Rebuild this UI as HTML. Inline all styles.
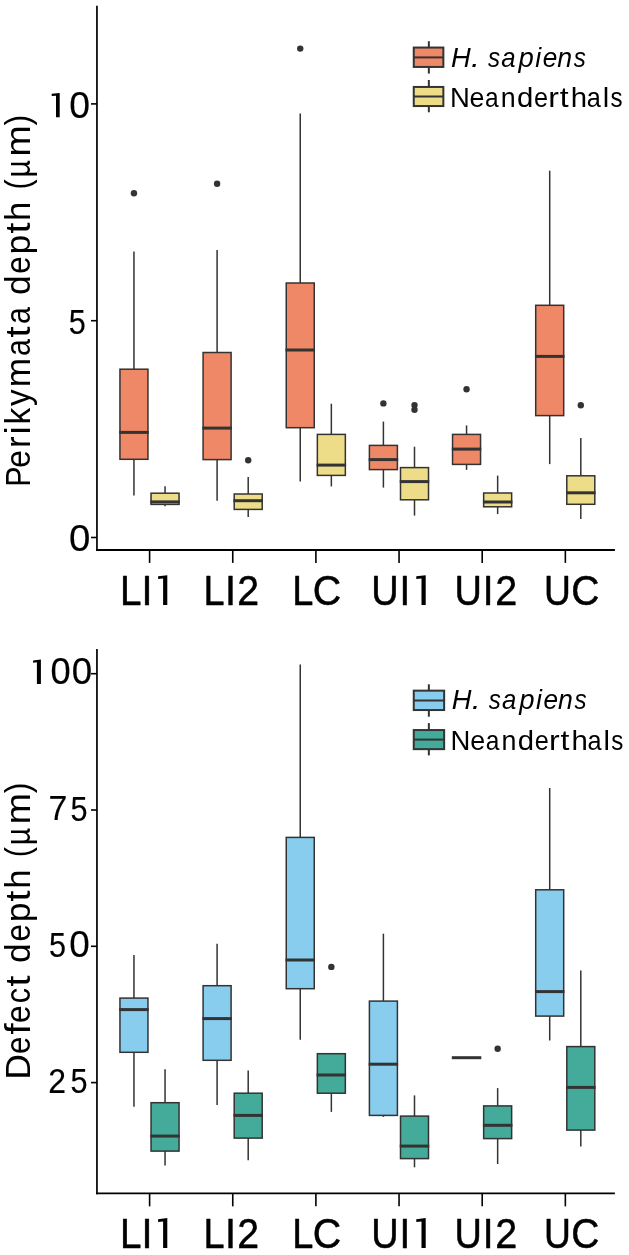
<!DOCTYPE html>
<html><head><meta charset="utf-8"><title>Box plots</title>
<style>
html,body{margin:0;padding:0;background:#fff;}
svg{display:block;font-family:"Liberation Sans",sans-serif;}
</style></head>
<body>
<svg style="will-change:transform;filter:grayscale(0)" width="629" height="1255" viewBox="0 0 629 1255">
<rect width="629" height="1255" fill="#ffffff"/>
<line x1="96.95" y1="5.80" x2="96.95" y2="550.90" stroke="#000" stroke-width="1.7" stroke-linecap="butt"/>
<line x1="96.10" y1="550.00" x2="614.90" y2="550.00" stroke="#000" stroke-width="1.8" stroke-linecap="butt"/>
<line x1="91.00" y1="103.90" x2="97.00" y2="103.90" stroke="#000" stroke-width="1.6" stroke-linecap="butt"/>
<line x1="91.00" y1="320.70" x2="97.00" y2="320.70" stroke="#000" stroke-width="1.6" stroke-linecap="butt"/>
<line x1="91.00" y1="537.50" x2="97.00" y2="537.50" stroke="#000" stroke-width="1.6" stroke-linecap="butt"/>
<line x1="149.60" y1="550.00" x2="149.60" y2="562.90" stroke="#000" stroke-width="1.6" stroke-linecap="butt"/>
<line x1="232.75" y1="550.00" x2="232.75" y2="562.90" stroke="#000" stroke-width="1.6" stroke-linecap="butt"/>
<line x1="315.90" y1="550.00" x2="315.90" y2="562.90" stroke="#000" stroke-width="1.6" stroke-linecap="butt"/>
<line x1="399.05" y1="550.00" x2="399.05" y2="562.90" stroke="#000" stroke-width="1.6" stroke-linecap="butt"/>
<line x1="482.20" y1="550.00" x2="482.20" y2="562.90" stroke="#000" stroke-width="1.6" stroke-linecap="butt"/>
<line x1="565.35" y1="550.00" x2="565.35" y2="562.90" stroke="#000" stroke-width="1.6" stroke-linecap="butt"/>
<text transform="translate(119.96,604.75) scale(0.9261,1)" font-size="41.72" fill="#000" stroke="#000" stroke-width="0.5" stroke-linejoin="round">L</text>
<text transform="translate(141.49,604.75) scale(0.9500,1)" font-size="41.72" fill="#000" stroke="#000" stroke-width="0.5" stroke-linejoin="round">I</text>
<polygon points="158.10,576.33 167.30,575.21 167.30,605.00 163.10,605.00 163.10,578.53 158.10,578.98" fill="#000"/>
<text transform="translate(203.57,604.75) scale(0.9076,1)" font-size="41.72" fill="#000" stroke="#000" stroke-width="0.5" stroke-linejoin="round">L</text>
<text transform="translate(224.89,604.75) scale(0.9500,1)" font-size="41.72" fill="#000" stroke="#000" stroke-width="0.5" stroke-linejoin="round">I</text>
<text transform="translate(237.17,604.75) scale(0.9425,1)" font-size="41.72" fill="#000" stroke="#000" stroke-width="0.5" stroke-linejoin="round">2</text>
<text transform="translate(292.31,604.75) scale(0.9102,1)" font-size="41.72" fill="#000" stroke="#000" stroke-width="0.5" stroke-linejoin="round">L</text>
<text transform="translate(312.83,604.75) scale(0.9440,1)" font-size="41.72" fill="#000" stroke="#000" stroke-width="0.5" stroke-linejoin="round">C</text>
<text transform="translate(371.21,604.75) scale(0.9093,1)" font-size="41.72" fill="#000" stroke="#000" stroke-width="0.5" stroke-linejoin="round">U</text>
<text transform="translate(399.57,604.75) scale(0.9273,1)" font-size="41.72" fill="#000" stroke="#000" stroke-width="0.5" stroke-linejoin="round">I</text>
<polygon points="416.30,576.33 425.70,575.21 425.70,605.00 421.50,605.00 421.50,578.53 416.30,578.98" fill="#000"/>
<text transform="translate(454.41,604.75) scale(0.9093,1)" font-size="41.72" fill="#000" stroke="#000" stroke-width="0.5" stroke-linejoin="round">U</text>
<text transform="translate(482.77,604.75) scale(0.9273,1)" font-size="41.72" fill="#000" stroke="#000" stroke-width="0.5" stroke-linejoin="round">I</text>
<text transform="translate(495.16,604.75) scale(0.9476,1)" font-size="41.72" fill="#000" stroke="#000" stroke-width="0.5" stroke-linejoin="round">2</text>
<text transform="translate(544.06,604.75) scale(0.8928,1)" font-size="41.72" fill="#000" stroke="#000" stroke-width="0.5" stroke-linejoin="round">U</text>
<text transform="translate(571.15,604.75) scale(0.9329,1)" font-size="41.72" fill="#000" stroke="#000" stroke-width="0.5" stroke-linejoin="round">C</text>
<line x1="133.95" y1="251.40" x2="133.95" y2="369.20" stroke="#333" stroke-width="1.5" stroke-linecap="butt"/>
<line x1="133.95" y1="459.30" x2="133.95" y2="495.40" stroke="#333" stroke-width="1.5" stroke-linecap="butt"/>
<rect x="119.95" y="369.20" width="28.00" height="90.10" fill="#EE8866" stroke="#333" stroke-width="1.5"/>
<line x1="119.20" y1="432.40" x2="148.70" y2="432.40" stroke="#333" stroke-width="3.0" stroke-linecap="butt"/>
<circle cx="133.95" cy="193.20" r="3.2" fill="#333"/>
<line x1="217.10" y1="249.90" x2="217.10" y2="352.50" stroke="#333" stroke-width="1.5" stroke-linecap="butt"/>
<line x1="217.10" y1="459.60" x2="217.10" y2="500.70" stroke="#333" stroke-width="1.5" stroke-linecap="butt"/>
<rect x="203.10" y="352.50" width="28.00" height="107.10" fill="#EE8866" stroke="#333" stroke-width="1.5"/>
<line x1="202.35" y1="428.10" x2="231.85" y2="428.10" stroke="#333" stroke-width="3.0" stroke-linecap="butt"/>
<circle cx="217.10" cy="183.70" r="3.2" fill="#333"/>
<line x1="300.25" y1="113.50" x2="300.25" y2="283.00" stroke="#333" stroke-width="1.5" stroke-linecap="butt"/>
<line x1="300.25" y1="427.70" x2="300.25" y2="481.60" stroke="#333" stroke-width="1.5" stroke-linecap="butt"/>
<rect x="286.25" y="283.00" width="28.00" height="144.70" fill="#EE8866" stroke="#333" stroke-width="1.5"/>
<line x1="285.50" y1="350.00" x2="315.00" y2="350.00" stroke="#333" stroke-width="3.0" stroke-linecap="butt"/>
<circle cx="300.25" cy="48.60" r="3.2" fill="#333"/>
<line x1="383.40" y1="421.60" x2="383.40" y2="445.40" stroke="#333" stroke-width="1.5" stroke-linecap="butt"/>
<line x1="383.40" y1="469.60" x2="383.40" y2="487.60" stroke="#333" stroke-width="1.5" stroke-linecap="butt"/>
<rect x="369.40" y="445.40" width="28.00" height="24.20" fill="#EE8866" stroke="#333" stroke-width="1.5"/>
<line x1="368.65" y1="459.60" x2="398.15" y2="459.60" stroke="#333" stroke-width="3.0" stroke-linecap="butt"/>
<circle cx="383.40" cy="403.40" r="3.2" fill="#333"/>
<line x1="466.55" y1="425.40" x2="466.55" y2="434.40" stroke="#333" stroke-width="1.5" stroke-linecap="butt"/>
<line x1="466.55" y1="464.40" x2="466.55" y2="469.90" stroke="#333" stroke-width="1.5" stroke-linecap="butt"/>
<rect x="452.55" y="434.40" width="28.00" height="30.00" fill="#EE8866" stroke="#333" stroke-width="1.5"/>
<line x1="451.80" y1="449.10" x2="481.30" y2="449.10" stroke="#333" stroke-width="3.0" stroke-linecap="butt"/>
<circle cx="466.55" cy="389.20" r="3.2" fill="#333"/>
<line x1="549.70" y1="170.70" x2="549.70" y2="305.30" stroke="#333" stroke-width="1.5" stroke-linecap="butt"/>
<line x1="549.70" y1="415.60" x2="549.70" y2="464.10" stroke="#333" stroke-width="1.5" stroke-linecap="butt"/>
<rect x="535.70" y="305.30" width="28.00" height="110.30" fill="#EE8866" stroke="#333" stroke-width="1.5"/>
<line x1="534.95" y1="356.40" x2="564.45" y2="356.40" stroke="#333" stroke-width="3.0" stroke-linecap="butt"/>
<line x1="165.05" y1="486.20" x2="165.05" y2="493.20" stroke="#333" stroke-width="1.5" stroke-linecap="butt"/>
<line x1="165.05" y1="504.40" x2="165.05" y2="506.20" stroke="#333" stroke-width="1.5" stroke-linecap="butt"/>
<rect x="151.05" y="493.20" width="28.00" height="11.20" fill="#EEDD88" stroke="#333" stroke-width="1.5"/>
<line x1="150.30" y1="501.90" x2="179.80" y2="501.90" stroke="#333" stroke-width="3.0" stroke-linecap="butt"/>
<line x1="248.20" y1="477.00" x2="248.20" y2="494.00" stroke="#333" stroke-width="1.5" stroke-linecap="butt"/>
<line x1="248.20" y1="509.40" x2="248.20" y2="516.90" stroke="#333" stroke-width="1.5" stroke-linecap="butt"/>
<rect x="234.20" y="494.00" width="28.00" height="15.40" fill="#EEDD88" stroke="#333" stroke-width="1.5"/>
<line x1="233.45" y1="500.70" x2="262.95" y2="500.70" stroke="#333" stroke-width="3.0" stroke-linecap="butt"/>
<circle cx="248.20" cy="460.30" r="3.2" fill="#333"/>
<line x1="331.35" y1="403.70" x2="331.35" y2="434.40" stroke="#333" stroke-width="1.5" stroke-linecap="butt"/>
<line x1="331.35" y1="475.40" x2="331.35" y2="486.40" stroke="#333" stroke-width="1.5" stroke-linecap="butt"/>
<rect x="317.35" y="434.40" width="28.00" height="41.00" fill="#EEDD88" stroke="#333" stroke-width="1.5"/>
<line x1="316.60" y1="465.10" x2="346.10" y2="465.10" stroke="#333" stroke-width="3.0" stroke-linecap="butt"/>
<line x1="414.50" y1="446.70" x2="414.50" y2="467.60" stroke="#333" stroke-width="1.5" stroke-linecap="butt"/>
<line x1="414.50" y1="499.80" x2="414.50" y2="515.60" stroke="#333" stroke-width="1.5" stroke-linecap="butt"/>
<rect x="400.50" y="467.60" width="28.00" height="32.20" fill="#EEDD88" stroke="#333" stroke-width="1.5"/>
<line x1="399.75" y1="481.60" x2="429.25" y2="481.60" stroke="#333" stroke-width="3.0" stroke-linecap="butt"/>
<circle cx="414.50" cy="405.10" r="3.2" fill="#333"/>
<circle cx="414.50" cy="409.70" r="3.2" fill="#333"/>
<line x1="497.65" y1="475.60" x2="497.65" y2="493.00" stroke="#333" stroke-width="1.5" stroke-linecap="butt"/>
<line x1="497.65" y1="506.80" x2="497.65" y2="514.00" stroke="#333" stroke-width="1.5" stroke-linecap="butt"/>
<rect x="483.65" y="493.00" width="28.00" height="13.80" fill="#EEDD88" stroke="#333" stroke-width="1.5"/>
<line x1="482.90" y1="502.00" x2="512.40" y2="502.00" stroke="#333" stroke-width="3.0" stroke-linecap="butt"/>
<line x1="580.80" y1="437.90" x2="580.80" y2="475.80" stroke="#333" stroke-width="1.5" stroke-linecap="butt"/>
<line x1="580.80" y1="504.30" x2="580.80" y2="519.00" stroke="#333" stroke-width="1.5" stroke-linecap="butt"/>
<rect x="566.80" y="475.80" width="28.00" height="28.50" fill="#EEDD88" stroke="#333" stroke-width="1.5"/>
<line x1="566.05" y1="492.80" x2="595.55" y2="492.80" stroke="#333" stroke-width="3.0" stroke-linecap="butt"/>
<circle cx="580.80" cy="405.20" r="3.2" fill="#333"/>
<line x1="96.95" y1="648.90" x2="96.95" y2="1194.35" stroke="#000" stroke-width="1.7" stroke-linecap="butt"/>
<line x1="96.10" y1="1193.45" x2="614.90" y2="1193.45" stroke="#000" stroke-width="1.8" stroke-linecap="butt"/>
<line x1="91.00" y1="673.70" x2="97.00" y2="673.70" stroke="#000" stroke-width="1.6" stroke-linecap="butt"/>
<line x1="91.00" y1="810.00" x2="97.00" y2="810.00" stroke="#000" stroke-width="1.6" stroke-linecap="butt"/>
<line x1="91.00" y1="946.30" x2="97.00" y2="946.30" stroke="#000" stroke-width="1.6" stroke-linecap="butt"/>
<line x1="91.00" y1="1082.60" x2="97.00" y2="1082.60" stroke="#000" stroke-width="1.6" stroke-linecap="butt"/>
<line x1="149.60" y1="1193.45" x2="149.60" y2="1206.35" stroke="#000" stroke-width="1.6" stroke-linecap="butt"/>
<line x1="232.75" y1="1193.45" x2="232.75" y2="1206.35" stroke="#000" stroke-width="1.6" stroke-linecap="butt"/>
<line x1="315.90" y1="1193.45" x2="315.90" y2="1206.35" stroke="#000" stroke-width="1.6" stroke-linecap="butt"/>
<line x1="399.05" y1="1193.45" x2="399.05" y2="1206.35" stroke="#000" stroke-width="1.6" stroke-linecap="butt"/>
<line x1="482.20" y1="1193.45" x2="482.20" y2="1206.35" stroke="#000" stroke-width="1.6" stroke-linecap="butt"/>
<line x1="565.35" y1="1193.45" x2="565.35" y2="1206.35" stroke="#000" stroke-width="1.6" stroke-linecap="butt"/>
<text transform="translate(119.96,1247.75) scale(0.9230,1)" font-size="41.86" fill="#000" stroke="#000" stroke-width="0.5" stroke-linejoin="round">L</text>
<text transform="translate(141.49,1247.75) scale(0.9470,1)" font-size="41.86" fill="#000" stroke="#000" stroke-width="0.5" stroke-linejoin="round">I</text>
<polygon points="158.10,1219.23 167.30,1218.10 167.30,1248.00 163.10,1248.00 163.10,1221.44 158.10,1221.89" fill="#000"/>
<text transform="translate(203.57,1247.75) scale(0.9045,1)" font-size="41.86" fill="#000" stroke="#000" stroke-width="0.5" stroke-linejoin="round">L</text>
<text transform="translate(224.89,1247.75) scale(0.9470,1)" font-size="41.86" fill="#000" stroke="#000" stroke-width="0.5" stroke-linejoin="round">I</text>
<text transform="translate(237.17,1247.75) scale(0.9393,1)" font-size="41.86" fill="#000" stroke="#000" stroke-width="0.5" stroke-linejoin="round">2</text>
<text transform="translate(292.31,1247.75) scale(0.9072,1)" font-size="41.86" fill="#000" stroke="#000" stroke-width="0.5" stroke-linejoin="round">L</text>
<text transform="translate(312.83,1247.75) scale(0.9408,1)" font-size="41.86" fill="#000" stroke="#000" stroke-width="0.5" stroke-linejoin="round">C</text>
<text transform="translate(371.21,1247.75) scale(0.9062,1)" font-size="41.86" fill="#000" stroke="#000" stroke-width="0.5" stroke-linejoin="round">U</text>
<text transform="translate(399.57,1247.75) scale(0.9245,1)" font-size="41.86" fill="#000" stroke="#000" stroke-width="0.5" stroke-linejoin="round">I</text>
<polygon points="416.30,1219.23 425.70,1218.10 425.70,1248.00 421.50,1248.00 421.50,1221.44 416.30,1221.89" fill="#000"/>
<text transform="translate(454.41,1247.75) scale(0.9062,1)" font-size="41.86" fill="#000" stroke="#000" stroke-width="0.5" stroke-linejoin="round">U</text>
<text transform="translate(482.77,1247.75) scale(0.9245,1)" font-size="41.86" fill="#000" stroke="#000" stroke-width="0.5" stroke-linejoin="round">I</text>
<text transform="translate(495.16,1247.75) scale(0.9444,1)" font-size="41.86" fill="#000" stroke="#000" stroke-width="0.5" stroke-linejoin="round">2</text>
<text transform="translate(544.05,1247.75) scale(0.8897,1)" font-size="41.86" fill="#000" stroke="#000" stroke-width="0.5" stroke-linejoin="round">U</text>
<text transform="translate(571.15,1247.75) scale(0.9297,1)" font-size="41.86" fill="#000" stroke="#000" stroke-width="0.5" stroke-linejoin="round">C</text>
<line x1="133.95" y1="955.00" x2="133.95" y2="998.10" stroke="#333" stroke-width="1.5" stroke-linecap="butt"/>
<line x1="133.95" y1="1052.30" x2="133.95" y2="1106.70" stroke="#333" stroke-width="1.5" stroke-linecap="butt"/>
<rect x="119.95" y="998.10" width="28.00" height="54.20" fill="#88CCEE" stroke="#333" stroke-width="1.5"/>
<line x1="119.20" y1="1009.60" x2="148.70" y2="1009.60" stroke="#333" stroke-width="3.0" stroke-linecap="butt"/>
<line x1="217.10" y1="943.70" x2="217.10" y2="985.70" stroke="#333" stroke-width="1.5" stroke-linecap="butt"/>
<line x1="217.10" y1="1060.30" x2="217.10" y2="1104.90" stroke="#333" stroke-width="1.5" stroke-linecap="butt"/>
<rect x="203.10" y="985.70" width="28.00" height="74.60" fill="#88CCEE" stroke="#333" stroke-width="1.5"/>
<line x1="202.35" y1="1018.60" x2="231.85" y2="1018.60" stroke="#333" stroke-width="3.0" stroke-linecap="butt"/>
<line x1="300.25" y1="664.50" x2="300.25" y2="837.40" stroke="#333" stroke-width="1.5" stroke-linecap="butt"/>
<line x1="300.25" y1="988.70" x2="300.25" y2="1039.80" stroke="#333" stroke-width="1.5" stroke-linecap="butt"/>
<rect x="286.25" y="837.40" width="28.00" height="151.30" fill="#88CCEE" stroke="#333" stroke-width="1.5"/>
<line x1="285.50" y1="960.00" x2="315.00" y2="960.00" stroke="#333" stroke-width="3.0" stroke-linecap="butt"/>
<line x1="383.40" y1="933.70" x2="383.40" y2="1001.10" stroke="#333" stroke-width="1.5" stroke-linecap="butt"/>
<line x1="383.40" y1="1115.40" x2="383.40" y2="1116.90" stroke="#333" stroke-width="1.5" stroke-linecap="butt"/>
<rect x="369.40" y="1001.10" width="28.00" height="114.30" fill="#88CCEE" stroke="#333" stroke-width="1.5"/>
<line x1="368.65" y1="1064.20" x2="398.15" y2="1064.20" stroke="#333" stroke-width="3.0" stroke-linecap="butt"/>
<line x1="451.80" y1="1057.70" x2="481.30" y2="1057.70" stroke="#333" stroke-width="3.0" stroke-linecap="butt"/>
<line x1="549.70" y1="788.00" x2="549.70" y2="889.80" stroke="#333" stroke-width="1.5" stroke-linecap="butt"/>
<line x1="549.70" y1="1016.10" x2="549.70" y2="1040.50" stroke="#333" stroke-width="1.5" stroke-linecap="butt"/>
<rect x="535.70" y="889.80" width="28.00" height="126.30" fill="#88CCEE" stroke="#333" stroke-width="1.5"/>
<line x1="534.95" y1="991.60" x2="564.45" y2="991.60" stroke="#333" stroke-width="3.0" stroke-linecap="butt"/>
<line x1="165.05" y1="1069.20" x2="165.05" y2="1102.70" stroke="#333" stroke-width="1.5" stroke-linecap="butt"/>
<line x1="165.05" y1="1151.10" x2="165.05" y2="1165.60" stroke="#333" stroke-width="1.5" stroke-linecap="butt"/>
<rect x="151.05" y="1102.70" width="28.00" height="48.40" fill="#44AA99" stroke="#333" stroke-width="1.5"/>
<line x1="150.30" y1="1136.10" x2="179.80" y2="1136.10" stroke="#333" stroke-width="3.0" stroke-linecap="butt"/>
<line x1="248.20" y1="1070.50" x2="248.20" y2="1093.20" stroke="#333" stroke-width="1.5" stroke-linecap="butt"/>
<line x1="248.20" y1="1138.10" x2="248.20" y2="1160.30" stroke="#333" stroke-width="1.5" stroke-linecap="butt"/>
<rect x="234.20" y="1093.20" width="28.00" height="44.90" fill="#44AA99" stroke="#333" stroke-width="1.5"/>
<line x1="233.45" y1="1115.40" x2="262.95" y2="1115.40" stroke="#333" stroke-width="3.0" stroke-linecap="butt"/>
<line x1="331.35" y1="1093.20" x2="331.35" y2="1111.90" stroke="#333" stroke-width="1.5" stroke-linecap="butt"/>
<rect x="317.35" y="1053.70" width="28.00" height="39.50" fill="#44AA99" stroke="#333" stroke-width="1.5"/>
<line x1="316.60" y1="1075.00" x2="346.10" y2="1075.00" stroke="#333" stroke-width="3.0" stroke-linecap="butt"/>
<circle cx="331.35" cy="966.90" r="3.2" fill="#333"/>
<line x1="414.50" y1="1095.40" x2="414.50" y2="1116.10" stroke="#333" stroke-width="1.5" stroke-linecap="butt"/>
<line x1="414.50" y1="1158.60" x2="414.50" y2="1167.30" stroke="#333" stroke-width="1.5" stroke-linecap="butt"/>
<rect x="400.50" y="1116.10" width="28.00" height="42.50" fill="#44AA99" stroke="#333" stroke-width="1.5"/>
<line x1="399.75" y1="1146.10" x2="429.25" y2="1146.10" stroke="#333" stroke-width="3.0" stroke-linecap="butt"/>
<line x1="497.65" y1="1088.10" x2="497.65" y2="1105.90" stroke="#333" stroke-width="1.5" stroke-linecap="butt"/>
<line x1="497.65" y1="1138.60" x2="497.65" y2="1164.00" stroke="#333" stroke-width="1.5" stroke-linecap="butt"/>
<rect x="483.65" y="1105.90" width="28.00" height="32.70" fill="#44AA99" stroke="#333" stroke-width="1.5"/>
<line x1="482.90" y1="1125.30" x2="512.40" y2="1125.30" stroke="#333" stroke-width="3.0" stroke-linecap="butt"/>
<circle cx="497.65" cy="1048.80" r="3.2" fill="#333"/>
<line x1="580.80" y1="970.40" x2="580.80" y2="1046.60" stroke="#333" stroke-width="1.5" stroke-linecap="butt"/>
<line x1="580.80" y1="1130.10" x2="580.80" y2="1146.60" stroke="#333" stroke-width="1.5" stroke-linecap="butt"/>
<rect x="566.80" y="1046.60" width="28.00" height="83.50" fill="#44AA99" stroke="#333" stroke-width="1.5"/>
<line x1="566.05" y1="1087.40" x2="595.55" y2="1087.40" stroke="#333" stroke-width="3.0" stroke-linecap="butt"/>
<polygon points="51.70,93.87 59.70,92.96 59.70,117.30 56.00,117.30 56.00,95.67 51.70,96.04" fill="#000"/>
<text transform="translate(69.22,117.82) scale(1.0121,1)" font-size="36.89" fill="#000" stroke="#000" stroke-width="0.15" stroke-linejoin="round">0</text>
<text transform="translate(68.80,334.13) scale(0.8600,1)" font-size="35.68" fill="#000" stroke="#000" stroke-width="0.15" stroke-linejoin="round">5</text>
<text transform="translate(68.88,551.12) scale(1.0403,1)" font-size="36.89" fill="#000" stroke="#000" stroke-width="0.15" stroke-linejoin="round">0</text>
<polygon points="33.10,660.47 40.90,659.56 40.90,683.90 36.90,683.90 36.90,662.27 33.10,662.64" fill="#000"/>
<text transform="translate(50.46,684.42) scale(0.9840,1)" font-size="36.89" fill="#000" stroke="#000" stroke-width="0.15" stroke-linejoin="round">0</text>
<text transform="translate(71.74,684.42) scale(0.9953,1)" font-size="36.89" fill="#000" stroke="#000" stroke-width="0.15" stroke-linejoin="round">0</text>
<text transform="translate(48.54,820.02) scale(0.9757,1)" font-size="34.81" fill="#000" stroke="#000" stroke-width="0.15" stroke-linejoin="round">7</text>
<text transform="translate(70.42,820.62) scale(0.8600,1)" font-size="35.68" fill="#000" stroke="#000" stroke-width="0.15" stroke-linejoin="round">5</text>
<text transform="translate(48.95,957.23) scale(0.8600,1)" font-size="35.68" fill="#000" stroke="#000" stroke-width="0.15" stroke-linejoin="round">5</text>
<text transform="translate(69.24,957.23) scale(1.0009,1)" font-size="36.89" fill="#000" stroke="#000" stroke-width="0.15" stroke-linejoin="round">0</text>
<text transform="translate(48.27,1092.62) scale(0.9117,1)" font-size="35.03" fill="#000" stroke="#000" stroke-width="0.15" stroke-linejoin="round">2</text>
<text transform="translate(70.57,1093.22) scale(0.8600,1)" font-size="35.68" fill="#000" stroke="#000" stroke-width="0.15" stroke-linejoin="round">5</text>
<text transform="translate(30.40,486.87) rotate(-90) scale(0.8600,1)" font-size="35.32" fill="#000">P</text>
<text transform="translate(30.40,467.63) rotate(-90) scale(0.8976,1)" font-size="35.32" fill="#000">e</text>
<text transform="translate(30.40,448.07) rotate(-90) scale(0.9740,1)" font-size="35.32" fill="#000">r</text>
<text transform="translate(30.40,434.61) rotate(-90) scale(1.0617,1)" font-size="35.32" fill="#000">i</text>
<text transform="translate(30.40,424.55) rotate(-90) scale(0.9525,1)" font-size="35.32" fill="#000">k</text>
<text transform="translate(30.40,406.00) rotate(-90) scale(0.9380,1)" font-size="35.32" fill="#000">y</text>
<text transform="translate(30.40,387.13) rotate(-90) scale(0.9976,1)" font-size="35.32" fill="#000">m</text>
<text transform="translate(30.40,356.03) rotate(-90) scale(0.8600,1)" font-size="35.32" fill="#000">a</text>
<text transform="translate(30.40,337.40) rotate(-90) scale(1.1281,1)" font-size="35.32" fill="#000">t</text>
<text transform="translate(30.40,324.03) rotate(-90) scale(0.8600,1)" font-size="35.32" fill="#000">a</text>
<text transform="translate(30.40,295.09) rotate(-90) scale(1.0067,1)" font-size="35.32" fill="#000">d</text>
<text transform="translate(30.40,273.71) rotate(-90) scale(0.8855,1)" font-size="35.32" fill="#000">e</text>
<text transform="translate(30.40,254.48) rotate(-90) scale(1.0067,1)" font-size="35.32" fill="#000">p</text>
<text transform="translate(30.40,233.59) rotate(-90) scale(1.1115,1)" font-size="35.32" fill="#000">t</text>
<text transform="translate(30.40,221.05) rotate(-90) scale(0.9829,1)" font-size="35.32" fill="#000">h</text>
<text transform="translate(30.40,189.51) rotate(-90) scale(0.8600,1)" font-size="35.32" fill="#000">(</text>
<text transform="translate(30.40,177.53) rotate(-90) scale(0.8600,1)" font-size="35.32" fill="#000">µ</text>
<text transform="translate(30.40,156.48) rotate(-90) scale(1.0622,1)" font-size="35.32" fill="#000">m</text>
<text transform="translate(30.40,125.49) rotate(-90) scale(0.9188,1)" font-size="35.32" fill="#000">)</text>
<text transform="translate(30.40,1079.52) rotate(-90) scale(0.9924,1)" font-size="35.32" fill="#000">D</text>
<text transform="translate(30.40,1053.96) rotate(-90) scale(0.8843,1)" font-size="35.32" fill="#000">e</text>
<text transform="translate(30.40,1034.40) rotate(-90) scale(1.1400,1)" font-size="35.32" fill="#000">f</text>
<text transform="translate(30.40,1022.93) rotate(-90) scale(0.8976,1)" font-size="35.32" fill="#000">e</text>
<text transform="translate(30.40,1003.25) rotate(-90) scale(0.8690,1)" font-size="35.32" fill="#000">c</text>
<text transform="translate(30.40,986.44) rotate(-90) scale(1.1115,1)" font-size="35.32" fill="#000">t</text>
<text transform="translate(30.40,962.89) rotate(-90) scale(1.0067,1)" font-size="35.32" fill="#000">d</text>
<text transform="translate(30.40,941.51) rotate(-90) scale(0.8855,1)" font-size="35.32" fill="#000">e</text>
<text transform="translate(30.40,922.28) rotate(-90) scale(1.0067,1)" font-size="35.32" fill="#000">p</text>
<text transform="translate(30.40,901.39) rotate(-90) scale(1.1115,1)" font-size="35.32" fill="#000">t</text>
<text transform="translate(30.40,888.85) rotate(-90) scale(0.9829,1)" font-size="35.32" fill="#000">h</text>
<text transform="translate(30.40,857.31) rotate(-90) scale(0.8600,1)" font-size="35.32" fill="#000">(</text>
<text transform="translate(30.40,845.33) rotate(-90) scale(0.8600,1)" font-size="35.32" fill="#000">µ</text>
<text transform="translate(30.40,824.28) rotate(-90) scale(1.0622,1)" font-size="35.32" fill="#000">m</text>
<text transform="translate(30.40,793.29) rotate(-90) scale(0.9188,1)" font-size="35.32" fill="#000">)</text>
<line x1="428.85" y1="41.20" x2="428.85" y2="73.60" stroke="#333" stroke-width="2.0" stroke-linecap="butt"/>
<rect x="413.75" y="47.55" width="29.6" height="19.40" fill="#EE8866" stroke="#333" stroke-width="2.0"/>
<line x1="413.75" y1="57.40" x2="443.35" y2="57.40" stroke="#333" stroke-width="2.0" stroke-linecap="butt"/>
<line x1="428.85" y1="80.00" x2="428.85" y2="112.30" stroke="#333" stroke-width="2.0" stroke-linecap="butt"/>
<rect x="413.75" y="86.95" width="29.6" height="19.10" fill="#EEDD88" stroke="#333" stroke-width="2.0"/>
<line x1="413.75" y1="96.50" x2="443.35" y2="96.50" stroke="#333" stroke-width="2.0" stroke-linecap="butt"/>
<text transform="translate(450.95,67.00) scale(0.9736,1)" font-size="28.05" font-style="italic" fill="#000">H</text>
<text transform="translate(471.05,67.00) scale(1.1400,1)" font-size="28.05" font-style="italic" fill="#000">.</text>
<text transform="translate(488.09,67.00) scale(0.8600,1)" font-size="28.05" font-style="italic" fill="#000">s</text>
<text transform="translate(501.33,67.00) scale(0.9197,1)" font-size="28.05" font-style="italic" fill="#000">a</text>
<text transform="translate(518.59,67.00) scale(0.9805,1)" font-size="28.05" font-style="italic" fill="#000">p</text>
<text transform="translate(535.37,67.00) scale(0.9496,1)" font-size="28.05" font-style="italic" fill="#000">i</text>
<text transform="translate(542.81,67.00) scale(0.9335,1)" font-size="28.05" font-style="italic" fill="#000">e</text>
<text transform="translate(557.35,67.00) scale(0.9525,1)" font-size="28.05" font-style="italic" fill="#000">n</text>
<text transform="translate(573.74,67.00) scale(0.8600,1)" font-size="28.05" font-style="italic" fill="#000">s</text>
<text transform="translate(449.90,107.45) scale(0.9789,1)" font-size="28.05" fill="#000">N</text>
<text transform="translate(469.57,107.45) scale(0.9557,1)" font-size="28.05" fill="#000">e</text>
<text transform="translate(485.07,107.45) scale(0.8739,1)" font-size="28.05" fill="#000">a</text>
<text transform="translate(500.83,107.45) scale(0.9562,1)" font-size="28.05" fill="#000">n</text>
<text transform="translate(517.07,107.45) scale(1.0457,1)" font-size="28.05" fill="#000">d</text>
<text transform="translate(534.04,107.45) scale(0.9026,1)" font-size="28.05" fill="#000">e</text>
<text transform="translate(548.34,107.45) scale(1.1400,1)" font-size="28.05" fill="#000">r</text>
<text transform="translate(559.85,107.45) scale(1.1400,1)" font-size="28.05" fill="#000">t</text>
<text transform="translate(570.77,107.45) scale(1.0475,1)" font-size="28.05" fill="#000">h</text>
<text transform="translate(586.74,107.45) scale(0.9016,1)" font-size="28.05" fill="#000">a</text>
<text transform="translate(602.76,107.45) scale(1.0330,1)" font-size="28.05" fill="#000">l</text>
<text transform="translate(610.59,107.45) scale(0.8600,1)" font-size="28.05" fill="#000">s</text>
<line x1="428.85" y1="684.30" x2="428.85" y2="716.70" stroke="#333" stroke-width="2.0" stroke-linecap="butt"/>
<rect x="413.75" y="690.65" width="30.4" height="19.40" fill="#88CCEE" stroke="#333" stroke-width="2.0"/>
<line x1="413.75" y1="700.50" x2="444.15" y2="700.50" stroke="#333" stroke-width="2.0" stroke-linecap="butt"/>
<line x1="428.85" y1="723.10" x2="428.85" y2="755.40" stroke="#333" stroke-width="2.0" stroke-linecap="butt"/>
<rect x="413.75" y="730.05" width="30.4" height="19.10" fill="#44AA99" stroke="#333" stroke-width="2.0"/>
<line x1="413.75" y1="739.60" x2="444.15" y2="739.60" stroke="#333" stroke-width="2.0" stroke-linecap="butt"/>
<text transform="translate(451.65,709.10) scale(0.9736,1)" font-size="28.05" font-style="italic" fill="#000">H</text>
<text transform="translate(471.75,709.10) scale(1.1400,1)" font-size="28.05" font-style="italic" fill="#000">.</text>
<text transform="translate(488.79,709.10) scale(0.8600,1)" font-size="28.05" font-style="italic" fill="#000">s</text>
<text transform="translate(502.03,709.10) scale(0.9197,1)" font-size="28.05" font-style="italic" fill="#000">a</text>
<text transform="translate(519.29,709.10) scale(0.9805,1)" font-size="28.05" font-style="italic" fill="#000">p</text>
<text transform="translate(536.07,709.10) scale(0.9496,1)" font-size="28.05" font-style="italic" fill="#000">i</text>
<text transform="translate(543.51,709.10) scale(0.9335,1)" font-size="28.05" font-style="italic" fill="#000">e</text>
<text transform="translate(558.05,709.10) scale(0.9525,1)" font-size="28.05" font-style="italic" fill="#000">n</text>
<text transform="translate(574.44,709.10) scale(0.8600,1)" font-size="28.05" font-style="italic" fill="#000">s</text>
<text transform="translate(450.60,749.55) scale(0.9789,1)" font-size="28.05" fill="#000">N</text>
<text transform="translate(470.27,749.55) scale(0.9557,1)" font-size="28.05" fill="#000">e</text>
<text transform="translate(485.77,749.55) scale(0.8739,1)" font-size="28.05" fill="#000">a</text>
<text transform="translate(501.53,749.55) scale(0.9562,1)" font-size="28.05" fill="#000">n</text>
<text transform="translate(517.77,749.55) scale(1.0457,1)" font-size="28.05" fill="#000">d</text>
<text transform="translate(534.74,749.55) scale(0.9026,1)" font-size="28.05" fill="#000">e</text>
<text transform="translate(549.04,749.55) scale(1.1400,1)" font-size="28.05" fill="#000">r</text>
<text transform="translate(560.55,749.55) scale(1.1400,1)" font-size="28.05" fill="#000">t</text>
<text transform="translate(571.47,749.55) scale(1.0475,1)" font-size="28.05" fill="#000">h</text>
<text transform="translate(587.44,749.55) scale(0.9016,1)" font-size="28.05" fill="#000">a</text>
<text transform="translate(603.46,749.55) scale(1.0330,1)" font-size="28.05" fill="#000">l</text>
<text transform="translate(611.29,749.55) scale(0.8600,1)" font-size="28.05" fill="#000">s</text>
</svg>
</body></html>
